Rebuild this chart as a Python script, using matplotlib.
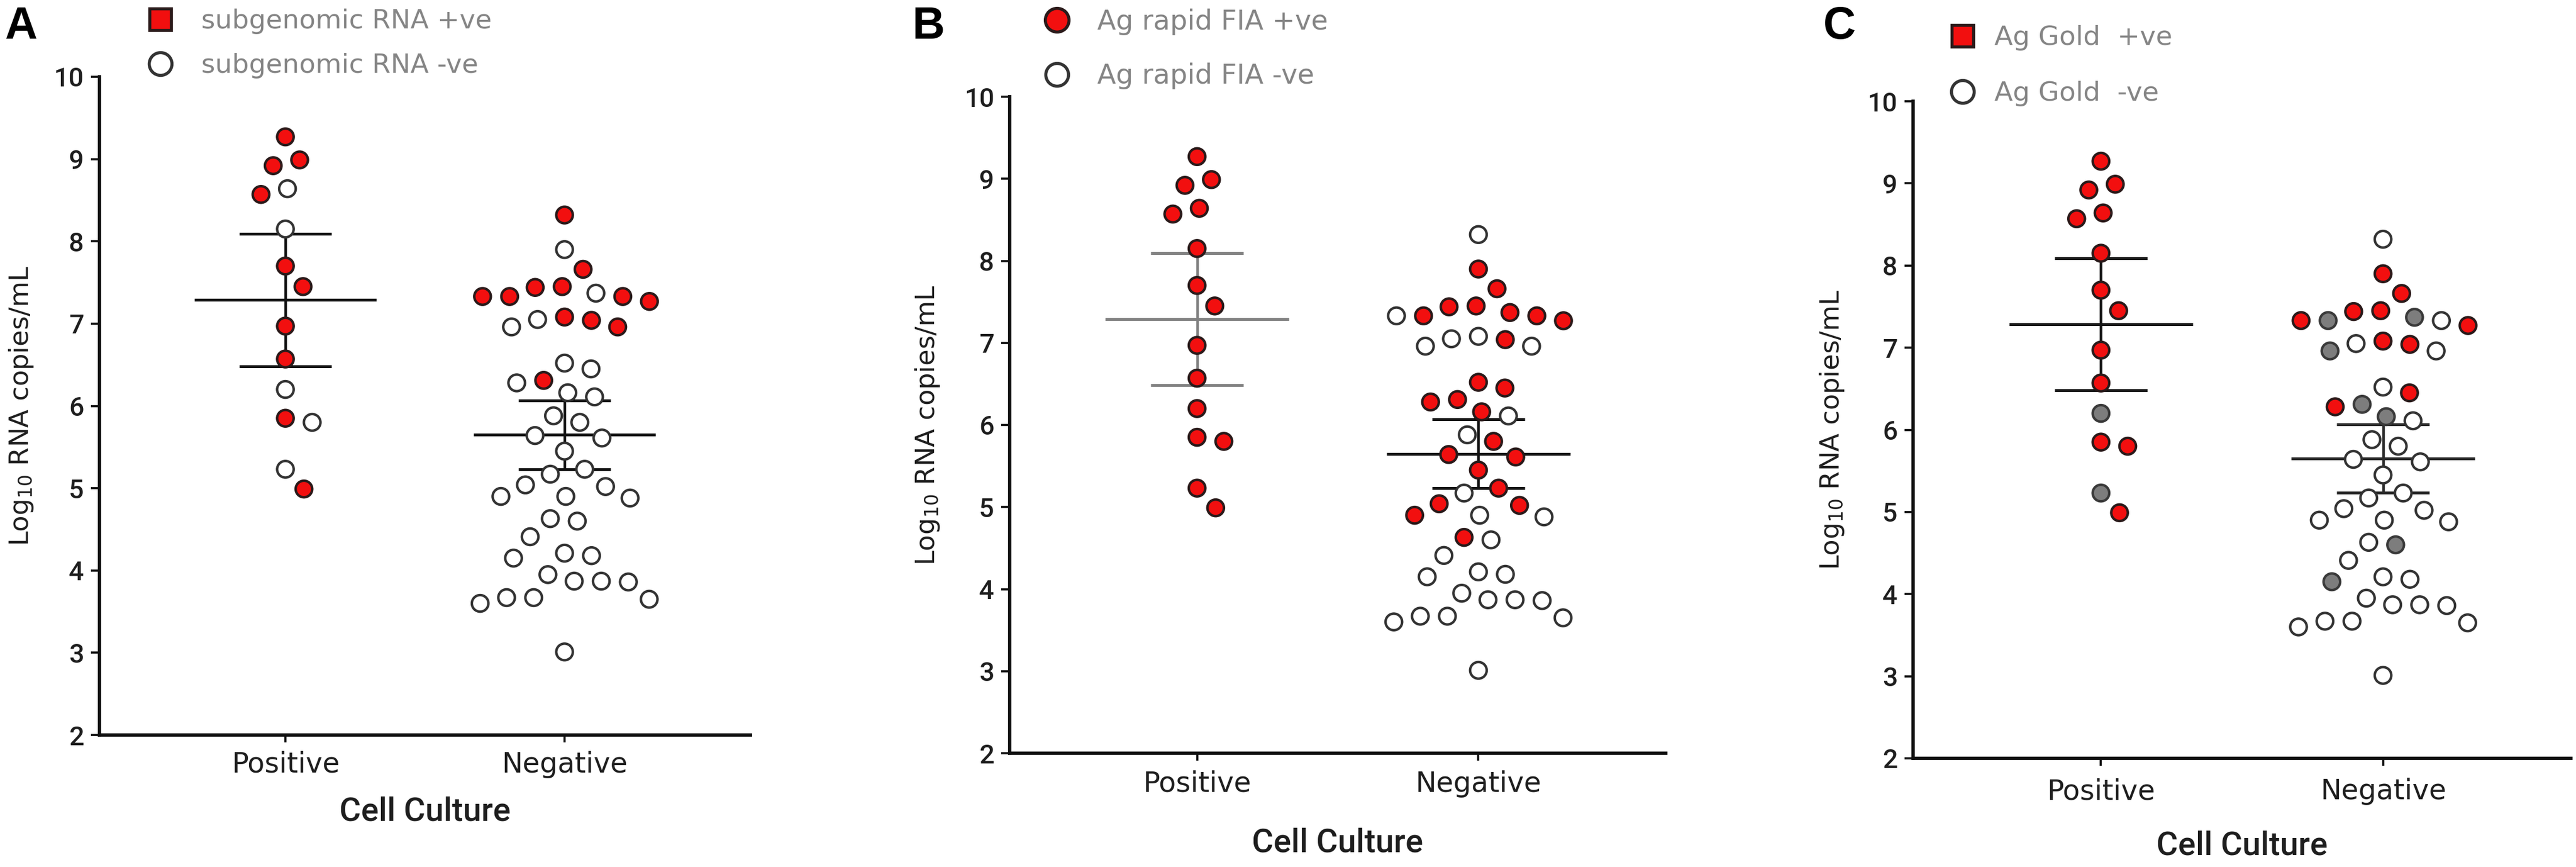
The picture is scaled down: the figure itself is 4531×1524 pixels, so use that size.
import math
import numpy as np
import matplotlib
matplotlib.use("Agg")
import matplotlib.pyplot as plt
from matplotlib.lines import Line2D
from matplotlib import font_manager

# ---------------- data ----------------
categories = ["Positive", "Negative"]

pos_values = [9.27, 8.99, 8.92, 8.64, 8.57, 8.15, 7.70, 7.45, 6.97, 6.57,
              6.20, 5.85, 5.80, 5.23, 4.99]

neg_values = [8.32, 7.90,
              7.45, 7.37, 7.33, 7.33, 7.33, 7.44, 7.27, 7.66,
              7.08, 7.04, 6.96, 6.96, 7.05,
              6.52, 6.45,
              6.31, 6.16, 6.28, 6.11,
              5.88, 5.80,
              5.61, 5.64, 5.45,
              5.17, 5.23,
              4.90, 5.02, 5.04, 4.88, 4.90,
              4.63, 4.60,
              4.41,
              4.21, 4.15, 4.18,
              3.95, 3.87, 3.86, 3.87,
              3.67, 3.65, 3.60, 3.67,
              3.01]

# status: p = test positive (red), n = test negative (open), g = grey
status_A_pos = list("pppnpnppppnpnnp")
status_A_neg = list("pn" "pnpppppp" "ppnpn" "nn" "pnnn" "nn" "nnn" "nn" "nnnnn" "nn" "n" "nnn" "nnnn" "nnnn" "n")
status_B_pos = list("ppppppppppppppp")
status_B_neg = list("np" "ppppnppp" "npnnn" "pp" "pppn" "np" "ppp" "np" "nppnp" "pn" "n" "nnn" "nnnn" "nnnn" "n")
status_C_pos = list("ppppppppppgppgp")
status_C_neg = list("np" "pggnpppp" "ppgnn" "np" "ggpn" "nn" "nnn" "nn" "nnnnn" "ng" "n" "ngn" "nnnn" "nnnn" "n")

panel_letters = ["A", "B", "C"]
legend_labels = [("subgenomic RNA +ve", "subgenomic RNA -ve"),
                 ("Ag rapid FIA +ve", "Ag rapid FIA -ve"),
                 ("Ag Gold  +ve", "Ag Gold  -ve")]
statuses = [(status_A_pos, status_A_neg),
            (status_B_pos, status_B_neg),
            (status_C_pos, status_C_neg)]
y_label = r"Log$_{10}$ RNA copies/mL"
x_label = "Cell Culture"
y_ticks = [2, 3, 4, 5, 6, 7, 8, 9, 10]

# ---------------- style ----------------
W, H, DPI = 4531, 1524, 300
PX = DPI / 72.0
names = {f.name for f in font_manager.fontManager.ttflist}
ROBOTO = "Roboto" if "Roboto" in names else "DejaVu Sans"
plt.rcParams["font.family"] = ["DejaVu Sans"]
plt.rcParams["mathtext.fontset"] = "dejavusans"
plt.rcParams["mathtext.default"] = "regular"

RED = "#f20f0f"
GREY = "#7d7d7d"
fill = {"p": RED, "n": "white", "g": GREY}
edge = {"p": "#2a1a1a", "n": "#333333", "g": "#3a3a3a"}

# axes rectangles in pixels: left, right, top(y=10), bottom(y=2)
rects_px = [(175, 1320, 135, 1292), (1776, 2930, 170, 1324), (3365, 4522, 178, 1333)]
letter_px = [(8, 68), (1605, 68), (3207, 68)]
# legend: marker x, text start x, first row centre y, row spacing, target text width, red marker
legend_geo = [(282, 354, 39, 80, 510, "s"),
              (1859, 1930, 39, 97, 405, "o"),
              (3452, 3508, 68, 101, 313, "s")]
xlabel_y = [-0.117, -0.137, -0.133]
ylabel_x = [-0.120, -0.125, -0.123]
xtick_pad = [3.6, 4.2, 5.2]
line_colors = [("#111111", "#111111"), ("#808080", "#111111"), ("#161616", "#2a2a2a")]

XLIM = (-0.666, 1.666)
YLIM = (2, 10)
MS = 7.0      # marker size (pt)
MEW = 1.05
SPREAD = 1.42  # layout spacing relative to marker diameter
MEAN_HW = 0.326
CAP_HW = 0.164


def t_crit(df, p=0.975):
    c = math.exp(math.lgamma((df + 1) / 2) - math.lgamma(df / 2)) / math.sqrt(df * math.pi)
    xs = np.linspace(0, 12, 240001)
    pdf = c * (1 + xs ** 2 / df) ** (-(df + 1) / 2)
    cdf = 0.5 + np.concatenate([[0.0], np.cumsum((pdf[1:] + pdf[:-1]) / 2 * np.diff(xs))])
    return float(np.interp(p, cdf, xs))


def swarm(values, sx, sy, d):
    v = np.asarray(values, dtype=float)
    ypx = v * sy
    order = np.argsort(-v, kind="stable")
    offs = np.zeros(len(v))
    placed = []
    for i in order:
        y = ypx[i]
        neigh = [(xj, yj) for (xj, yj) in placed if abs(yj - y) < d]
        cands = [0.0]
        for xj, yj in neigh:
            dx = math.sqrt(max(d * d - (yj - y) ** 2, 0.0))
            cands += [xj + dx, xj - dx]
        cands.sort(key=lambda c: (round(abs(c), 4), -c))
        chosen = cands[-1]
        for c in cands:
            if all((c - xj) ** 2 + (y - yj) ** 2 >= d * d - 1e-6 for xj, yj in neigh):
                chosen = c
                break
        offs[i] = chosen
        placed.append((chosen, y))
    return offs / sx


fig = plt.figure(figsize=(W / DPI, H / DPI), dpi=DPI)
renderer = fig.canvas.get_renderer()


def fit(s, target_px, size0=10.0, **kw):
    t = fig.text(0, 0, s, fontsize=size0, **kw)
    bb = t.get_window_extent(renderer)
    t.remove()
    k = target_px / bb.width
    return size0 * k, bb.height * k


ylab_size, _ = fit(y_label, 494, family="DejaVu Sans")
xtick_size, _ = fit(categories[0], 190, family="DejaVu Sans")
ytick_size, _ = fit("10", 53, family=ROBOTO, weight="medium")
xlab_size, _ = fit(x_label, 300, family=ROBOTO, weight="medium")

for k in range(3):
    l, r, t, b = rects_px[k]
    ax = fig.add_axes([l / W, 1 - b / H, (r - l) / W, (b - t) / H])
    ax.set_xlim(*XLIM)
    ax.set_ylim(*YLIM)
    sx = (r - l) / (XLIM[1] - XLIM[0])
    sy = (b - t) / (YLIM[1] - YLIM[0])
    d = (MS + MEW) * PX * SPREAD

    for gi, (vals, stat) in enumerate(zip([pos_values, neg_values], statuses[k])):
        vals = np.asarray(vals)
        offs = swarm(vals, sx, sy, d)
        xs = gi + offs
        fc = [fill[s] for s in stat]
        ec = [edge[s] for s in stat]
        ax.scatter(xs, vals, s=MS ** 2, c=fc, edgecolors=ec, linewidths=MEW, zorder=3)

        n = len(vals)
        m = vals.mean()
        sem = vals.std(ddof=1) / math.sqrt(n)
        hw = t_crit(n - 1) * sem
        col = line_colors[k][gi]
        ax.hlines(m, gi - MEAN_HW, gi + MEAN_HW, colors=col, lw=1.2, zorder=2)
        ax.vlines(gi, m - hw, m + hw, colors=col, lw=1.1, zorder=2)
        ax.hlines([m - hw, m + hw], gi - CAP_HW, gi + CAP_HW, colors=col, lw=1.2, zorder=2)

    for side in ("top", "right"):
        ax.spines[side].set_visible(False)
    for side in ("left", "bottom"):
        ax.spines[side].set_linewidth(1.4)
        ax.spines[side].set_color("#111111")
    ax.set_yticks(y_ticks)
    ax.set_xticks([0, 1])
    ax.set_xticklabels(categories)
    ax.tick_params(axis="y", length=3.6, width=0.9, pad=3.0, labelsize=ytick_size,
                   labelcolor="#1e1e1e", color="#111111")
    ax.tick_params(axis="x", length=3.0, width=0.9, pad=xtick_pad[k], labelsize=xtick_size,
                   labelcolor="#1e1e1e", color="#111111")
    for lab in ax.get_yticklabels():
        lab.set_family(ROBOTO)
        lab.set_fontweight("medium")
    for lab in ax.get_xticklabels():
        lab.set_family("DejaVu Sans")

    ax.set_ylabel(y_label, fontsize=ylab_size, color="#1e1e1e", family="DejaVu Sans")
    ax.yaxis.label.set_va("center")
    ax.yaxis.set_label_coords(ylabel_x[k], 0.5)
    ax.set_xlabel(x_label, fontsize=xlab_size, color="#1e1e1e", fontweight="medium",
                  family=ROBOTO)
    ax.xaxis.label.set_va("center")
    ax.xaxis.set_label_coords(0.5, xlabel_y[k])

    # legend
    mx, tx, cy, spacing, tw, pm = legend_geo[k]
    lfs, text_h = fit(legend_labels[k][0], tw, family="DejaVu Sans")
    fs_px = lfs * PX
    row_h = max(text_h, 0.7 * fs_px)
    lsp = (spacing - row_h) / fs_px
    htp = (tx - mx - 0.5 * fs_px) / fs_px
    h1 = Line2D([], [], ls="none", marker=pm, mfc=RED, mec="#2a1a1a",
                ms=9.0 if pm == "s" else 10.0, mew=1.3)
    h2 = Line2D([], [], ls="none", marker="o", mfc="white", mec="#333333", ms=9.6, mew=1.3)
    ax.legend([h1, h2], list(legend_labels[k]), loc="upper left",
              bbox_to_anchor=((mx - 0.5 * fs_px) / W, 1 - (cy - row_h / 2) / H),
              bbox_transform=fig.transFigure,
              frameon=False, borderpad=0, borderaxespad=0, handlelength=1.0,
              handletextpad=htp, labelspacing=lsp,
              prop={"family": "DejaVu Sans", "size": lfs}, labelcolor="#858585")

    lx0, ly0 = letter_px[k]
    fig.text(lx0 / W, 1 - ly0 / H, panel_letters[k], fontsize=19, fontweight="bold",
             family=["Liberation Sans", "DejaVu Sans"], ha="left", va="baseline")

fig.savefig("out.png", dpi=DPI, facecolor="white")
